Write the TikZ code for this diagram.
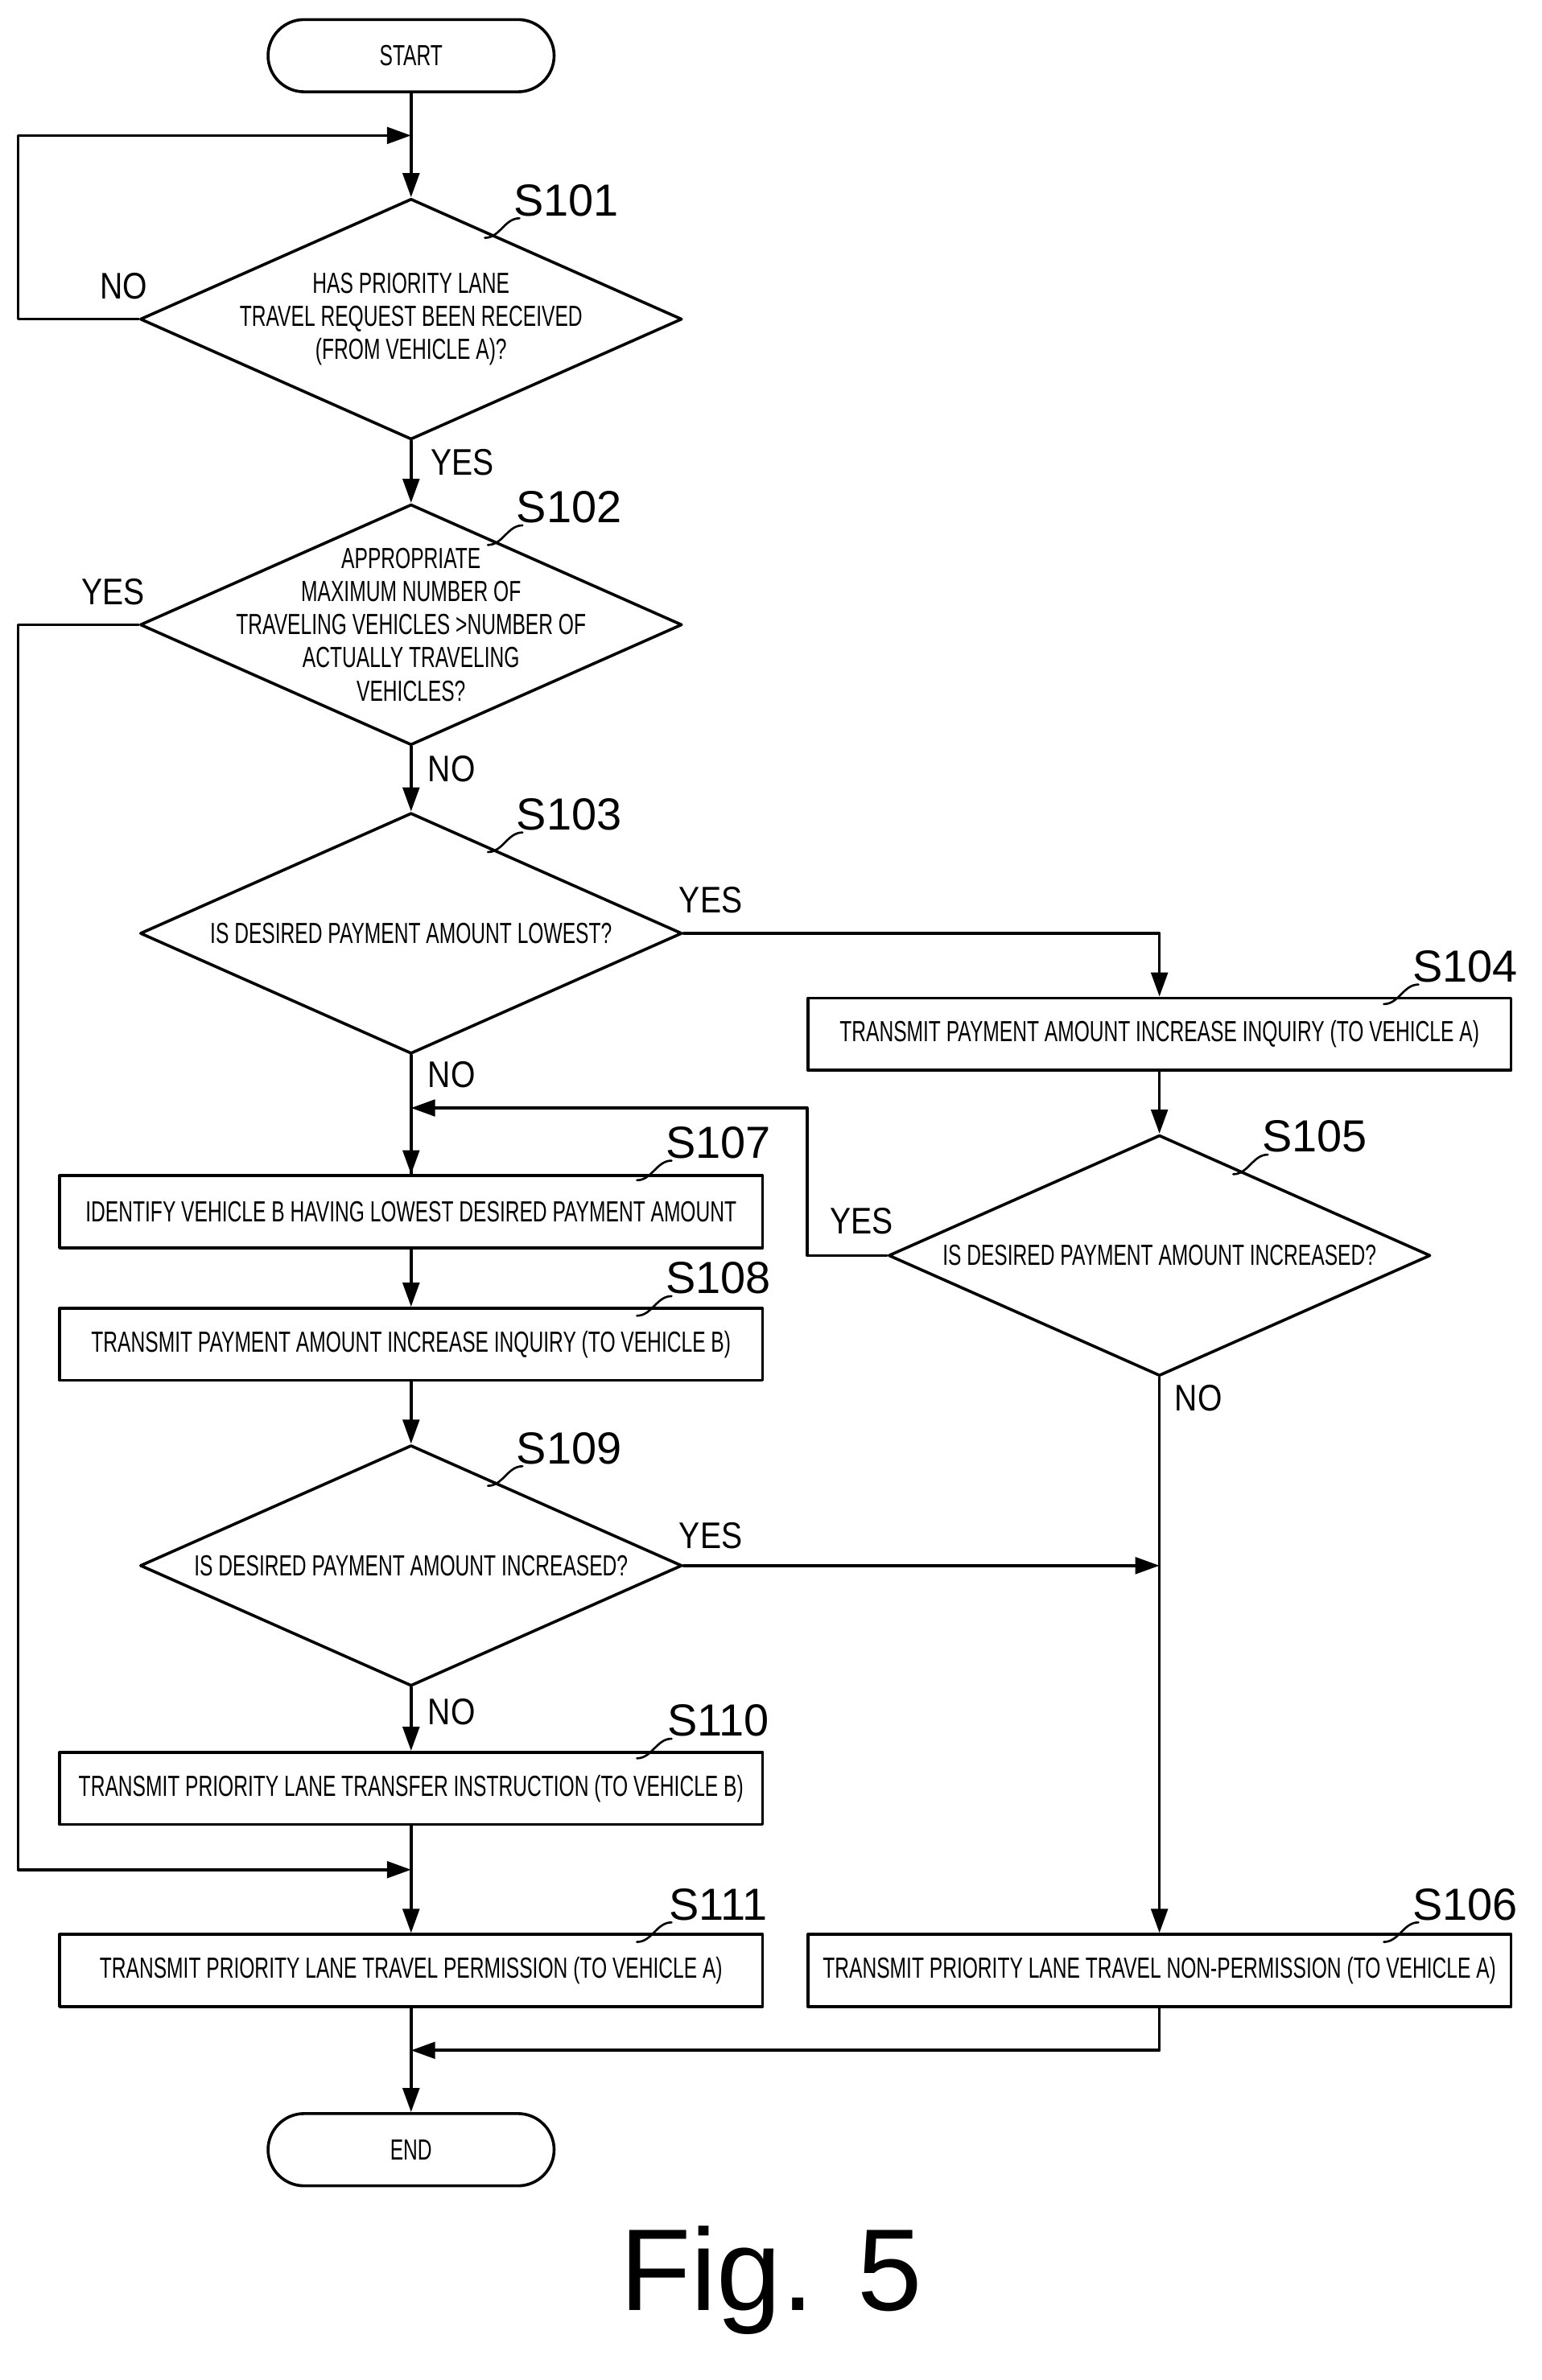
\documentclass[tikz,border=0pt]{standalone}
\usepackage{fontspec}
\setmainfont{Liberation Sans}
\newfontfamily\condfont[FakeStretch=0.68]{Liberation Sans}
\newfontfamily\ynfont[FakeStretch=0.85]{Liberation Sans}
\usetikzlibrary{arrows.meta,shapes.geometric,shapes.misc}
\tikzset{
  line/.style={line width=1.1pt},
  decision/.style={diamond,draw,line width=1.1pt,minimum width=7.2cm,minimum height=3.2cm,inner sep=0pt},
  process/.style={rectangle,draw,line width=1.1pt,minimum width=9.34cm,minimum height=0.96cm,inner sep=0pt},
  terminal/.style={rounded rectangle,draw,line width=1.1pt,minimum width=3.8cm,minimum height=0.96cm,inner sep=0pt},
  txt/.style={font=\condfont\fontsize{11}{12.5}\selectfont,align=center,inner sep=0pt},
  yn/.style={font=\ynfont\fontsize{14}{14}\selectfont,inner sep=0pt},
  stepno/.style={font=\fontsize{17}{17}\selectfont,inner sep=0pt}
}
\newcommand{\stepmark}[3]{%
  \node[stepno] (#1) at (#2,#3) {#1};
  \draw[line width=0.8pt] (#2-54,#3+25) .. controls (#2-44,#3+25) and (#2-41,#3+12) .. (#2-31,#3+12);
}
\begin{document}
\begin{tikzpicture}[line cap=round,line join=round,>={Triangle[length=3.2mm,width=2.2mm]},x=0.02cm,y=-0.02cm]
  \useasboundingbox (0,0) rectangle (1024,1581);
  % shapes
  \node[terminal] (start) at (273,37) {};
  \node[txt] at (start) {START};
  \node[decision] (d101) at (273,212) {};
  \node[txt] at (d101) {HAS PRIORITY LANE\\TRAVEL REQUEST BEEN RECEIVED\\(FROM VEHICLE A)?};
  \node[decision] (d102) at (273,415) {};
  \node[txt] at (d102) {APPROPRIATE\\MAXIMUM NUMBER OF\\TRAVELING VEHICLES >NUMBER OF\\ACTUALLY TRAVELING\\VEHICLES?};
  \node[decision] (d103) at (273,620) {};
  \node[txt] at (d103) {IS DESIRED PAYMENT AMOUNT LOWEST?};
  \node[process] (s104) at (770,687) {};
  \node[txt] at (s104) {TRANSMIT PAYMENT AMOUNT INCREASE INQUIRY (TO VEHICLE A)};
  \node[decision] (d105) at (770,834) {};
  \node[txt] at (d105) {IS DESIRED PAYMENT AMOUNT INCREASED?};
  \node[process] (s107) at (273,805) {};
  \node[txt] at (s107) {IDENTIFY VEHICLE B HAVING LOWEST DESIRED PAYMENT AMOUNT};
  \node[process] (s108) at (273,893) {};
  \node[txt] at (s108) {TRANSMIT PAYMENT AMOUNT INCREASE INQUIRY (TO VEHICLE B)};
  \node[decision] (d109) at (273,1040) {};
  \node[txt] at (d109) {IS DESIRED PAYMENT AMOUNT INCREASED?};
  \node[process] (s110) at (273,1188) {};
  \node[txt] at (s110) {TRANSMIT PRIORITY LANE TRANSFER INSTRUCTION (TO VEHICLE B)};
  \node[process] (s111) at (273,1309) {};
  \node[txt] at (s111) {TRANSMIT PRIORITY LANE TRAVEL PERMISSION (TO VEHICLE A)};
  \node[process] (s106) at (770,1309) {};
  \node[txt] at (s106) {TRANSMIT PRIORITY LANE TRAVEL NON-PERMISSION (TO VEHICLE A)};
  \node[terminal] (end) at (273,1428) {};
  \node[txt] at (end) {END};
  % step numbers
  \stepmark{S101}{376}{133}
  \stepmark{S102}{378}{337}
  \stepmark{S103}{378}{541}
  \stepmark{S104}{973}{642}
  \stepmark{S105}{873}{755}
  \stepmark{S107}{477}{759}
  \stepmark{S108}{477}{849}
  \stepmark{S109}{378}{962}
  \stepmark{S110}{477}{1143}
  \stepmark{S111}{477}{1265}
  \stepmark{S106}{973}{1265}
  % connectors
  \coordinate (j101) at (273,90);
  \coordinate (j111) at (273,1242);
  \coordinate (j107) at (273,736);
  \coordinate (j106) at (770,1040);
  \coordinate (jend) at (273,1362);
  \draw[line,->] (start) -- (d101);
  \draw[line,->] (d101.west) -- (12,212) -- (12,90) -- (j101);
  \draw[line,->] (d101) -- (d102);
  \draw[line,->] (d102.west) -- (12,415) -- (12,1242) -- (j111);
  \draw[line,->] (d102) -- (d103);
  \draw[line,->] (d103.east) -- (770,620) -- (s104);
  \draw[line] (d103) -- (s107);
  \draw[line,->] (s104) -- (d105);
  \draw[line,->] (d105.west) -- (536,834) -- (536,736) -- (j107);
  \draw[line,->] (j107) -- (s107);
  \draw[line,->] (d105) -- (s106);
  \draw[line,->] (s107) -- (s108);
  \draw[line,->] (s108) -- (d109);
  \draw[line,->] (d109.east) -- (j106);
  \draw[line,->] (d109) -- (s110);
  \draw[line,->] (s110) -- (s111);
  \draw[line,->] (s111) -- (end);
  \draw[line,->] (s106.south) -- (770,1362) -- (jend);
  % yes / no
  \node[yn] at (82,190) {NO};
  \node[yn] at (307,307) {YES};
  \node[yn] at (75,393) {YES};
  \node[yn] at (300,511) {NO};
  \node[yn] at (472,598) {YES};
  \node[yn] at (300,714) {NO};
  \node[yn] at (572,811) {YES};
  \node[yn] at (796,929) {NO};
  \node[yn] at (472,1020) {YES};
  \node[yn] at (300,1137) {NO};
  \node[font=\fontsize{44}{44}\selectfont,inner sep=0pt] (fig) at (512,1515) {Fig. 5};
\end{tikzpicture}
\end{document}
